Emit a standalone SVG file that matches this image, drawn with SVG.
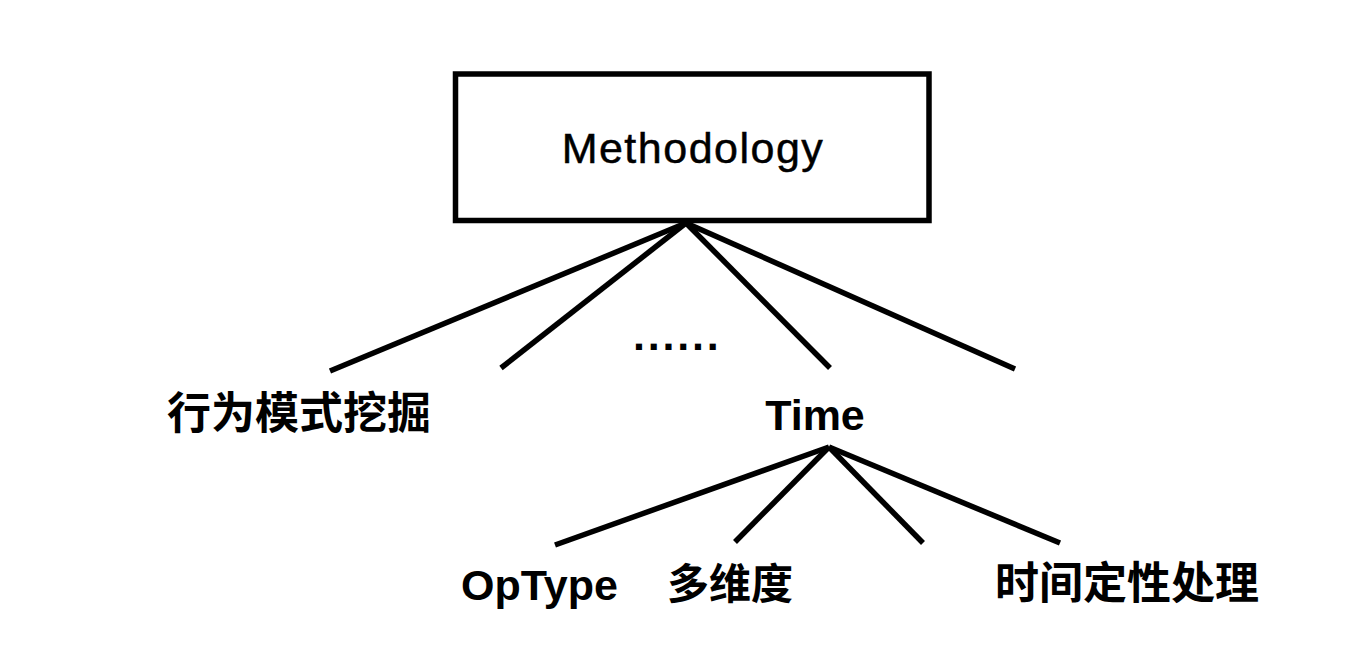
<svg xmlns="http://www.w3.org/2000/svg" width="1350" height="654" viewBox="0 0 1350 654">
<style>
.edge{stroke:#000;stroke-width:5.5;fill:none;stroke-linecap:butt}
.lat{font-family:"Liberation Sans",Arial,sans-serif;fill:#000}
.cjk{font-family:"Noto Sans CJK SC","Liberation Sans",sans-serif;font-weight:bold;fill:#000}
.b{font-weight:bold}
</style>
<rect width="1350" height="654" fill="#fff"/>
<g id="connectors">
<line class="edge" x1="686" y1="223" x2="330" y2="371" stroke-width="6.5"/>
<line class="edge" x1="686" y1="223" x2="501" y2="368"/>
<line class="edge" x1="686" y1="223" x2="830" y2="368"/>
<line class="edge" x1="686" y1="223" x2="1015" y2="369" stroke-width="6"/>
<line class="edge" x1="829" y1="447" x2="555" y2="545" stroke-width="6.5"/>
<line class="edge" x1="829" y1="447" x2="735" y2="542"/>
<line class="edge" x1="829" y1="447" x2="923" y2="543"/>
<line class="edge" x1="829" y1="447" x2="1060" y2="543" stroke-width="6"/>
</g>
<g id="methodology">
<rect x="455.5" y="74" width="473.5" height="146.5" fill="#fff" stroke="#000" stroke-width="5.5"/>
<text class="lat" x="693" y="163" font-size="43" letter-spacing="1.5" stroke="#000" stroke-width="0.5" text-anchor="middle">Methodology</text>
</g>
<g id="behavior">
<text class="cjk" x="167" y="429" font-size="44">行为模式挖掘</text>
</g>
<g id="ellipsis">
<text class="lat b" x="633" y="350" font-size="43" letter-spacing="2.8">......</text>
</g>
<g id="time">
<text class="lat b" x="815" y="430" font-size="43" text-anchor="middle">Time</text>
</g>
<g id="optype">
<text class="lat b" x="461" y="600" font-size="43">OpType</text>
</g>
<g id="multidim">
<text class="cjk" x="667" y="599" font-size="42">多维度</text>
</g>
<g id="timeproc">
<text class="cjk" x="995" y="599" font-size="44">时间定性处理</text>
</g>
</svg>
